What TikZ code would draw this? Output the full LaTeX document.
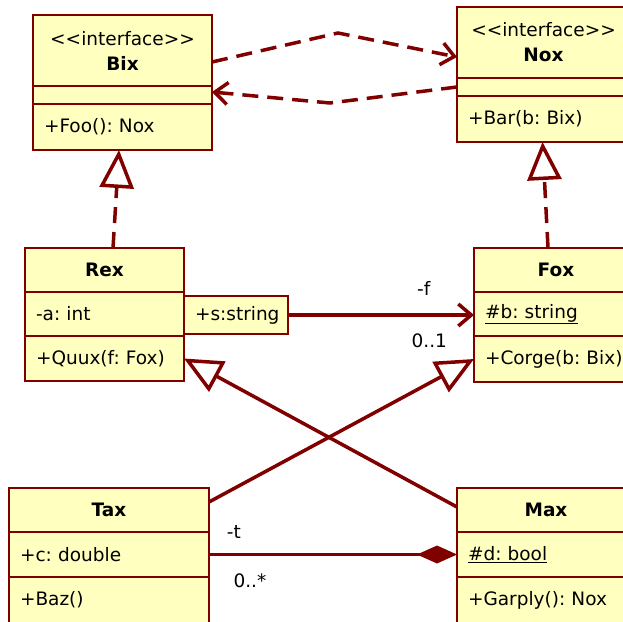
\documentclass[tikz,border=0pt]{standalone}
\usepackage{fontspec}
\setmainfont{DejaVu Sans}
\usetikzlibrary{arrows.meta,positioning}
\definecolor{umlred}{HTML}{800000}
\definecolor{umlfill}{HTML}{FFFFC0}
\newcommand\umlstereo[1]{<\kern0pt<#1>\kern0pt>}

\begin{document}
\begin{tikzpicture}[x=1pt,y=-1pt,
  umlfont/.style={font=\fontsize{18.5}{22}\selectfont\frenchspacing},
  classbox/.style={draw=umlred,fill=umlfill,line width=1.5pt,inner sep=0pt,inner xsep=11pt,
    outer sep=0pt,umlfont,text width=#1},
  head/.style 2 args={classbox=#1,minimum height=#2,align=center},
  conn/.style={umlred,line width=3.5pt},
  dep/.style={conn,dash pattern=on 16pt off 9pt,-{Straight Barb[length=13pt,width=22pt]}},
  realize/.style={conn,dash pattern=on 16pt off 9pt,-{Triangle[fill=white,length=38pt,width=34pt]}},
  inherit/.style={conn,-{Triangle[fill=white,length=38pt,width=34pt]}},
  assoc/.style={conn,-{Straight Barb[length=13pt,width=22pt]}},
  compose/.style={conn,-{Diamond[length=40pt,width=18pt]}},
  role/.style={umlfont,text=black,inner sep=0pt}]
\useasboundingbox (0,0) rectangle (623,621);
\clip (0,0) rectangle (623,621);

% interfaces
\node[head={157}{71},anchor=north west] (bix-t) at (33,15) {\umlstereo{interface}\\[3pt]\textbf{Bix}};
\node[classbox=157,minimum height=18,below=0pt of bix-t] (bix-a) {};
\node[classbox=157,minimum height=46,align=left,below=0pt of bix-a] (bix-o) {+Foo(): Nox};
\node[head={151}{71},anchor=north west] (nox-t) at (457,7) {\umlstereo{interface}\\[3pt]\textbf{Nox}};
\node[classbox=151,minimum height=18,below=0pt of nox-t] (nox-a) {};
\node[classbox=151,minimum height=46,align=left,below=0pt of nox-a] (nox-o) {+Bar(b: Bix)};

% classes
\node[head={137}{44},anchor=north west] (rex-t) at (25,248) {\textbf{Rex}};
\node[classbox=137,minimum height=44,align=left,below=0pt of rex-t] (rex-a) {-a: int};
\node[classbox=137,minimum height=45,align=left,below=0pt of rex-a] (rex-o) {+Quux(f: Fox)};
\node[classbox=82,minimum height=38,align=center,anchor=north west] (sstr) at (184,296) {+s:string};
\node[head={142}{44},anchor=north west] (fox-t) at (474,248) {\textbf{Fox}};
\node[classbox=142,minimum height=44,align=left,below=0pt of fox-t] (fox-a) {\underline{\#b: string}};
\node[classbox=142,minimum height=46,align=left,below=0pt of fox-a] (fox-o) {+Corge(b: Bix)};
\node[head={178}{44},anchor=north west] (tax-t) at (9,488) {\textbf{Tax}};
\node[classbox=178,minimum height=45,align=left,below=0pt of tax-t] (tax-a) {+c: double};
\node[classbox=178,minimum height=46,align=left,below=0pt of tax-a] (tax-o) {+Baz()};
\node[head={156}{44},anchor=north west] (max-t) at (457,488) {\textbf{Max}};
\node[classbox=156,minimum height=45,align=left,below=0pt of max-t] (max-a) {\underline{\#d: bool}};
\node[classbox=156,minimum height=46,align=left,below=0pt of max-a] (max-o) {+Garply(): Nox};

% dependencies between the interfaces
\coordinate (upbend) at (338,33); \coordinate (lowbend) at (330,103);
\draw[dep] ([yshift=-11.5pt]bix-t.east) -- (upbend) -- ([yshift=-14.5pt]nox-t.west);
\draw[dep] (nox-a.west) -- (lowbend) -- ([yshift=3pt]bix-a.east);

% realizations and generalizations
\draw[realize] ([xshift=8.5pt]rex-t.north) -- ([xshift=-3.5pt]bix-o.south);
\draw[realize] ([xshift=-8pt]fox-t.north) -- ([xshift=-1pt]nox-o.south);
\draw[inherit] ([yshift=3pt]max-t.west) -- (rex-o.east);
\draw[inherit] ([yshift=8pt]tax-t.east) -- (fox-o.west);

% associations
\draw[assoc] (sstr.east) -- (sstr.east -| fox-a.west)
  node[role,pos=.73,yshift=27pt] (f-role) {-f}
  node[role,pos=.76,yshift=-26pt] (f-mult) {0..1};
\draw[compose] (tax-a.east) -- (max-a.west)
  node[role,pos=.1,yshift=23pt] (t-role) {-t}
  node[role,pos=.165,yshift=-26pt] (t-mult) {0..*};
\end{tikzpicture}
\end{document}
